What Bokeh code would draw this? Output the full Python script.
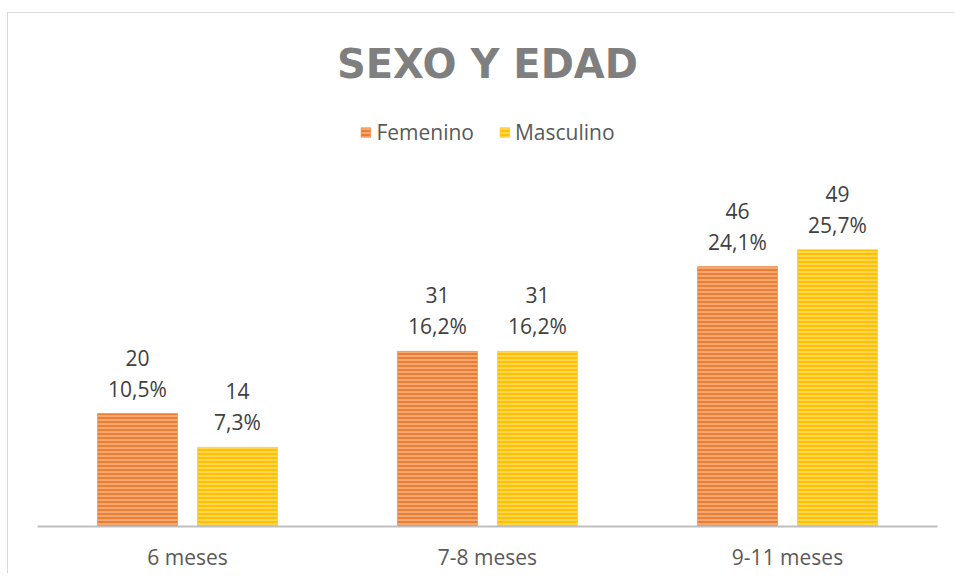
from bokeh.plotting import figure
from bokeh.models import ColumnDataSource, FactorRange, Range1d, Legend, LegendItem
from bokeh.transform import dodge
from bokeh.embed import file_html
from bokeh.resources import INLINE
from bokeh.core.properties import value

# ---- data ----
categories = ["6 meses", "7-8 meses", "9-11 meses"]
femenino = [20, 31, 46]
masculino = [14, 31, 49]
femenino_pct = ["10,5%", "16,2%", "24,1%"]
masculino_pct = ["7,3%", "16,2%", "25,7%"]
series_names = ["Femenino", "Masculino"]

src = ColumnDataSource(dict(
    cat=categories,
    fem=femenino, masc=masculino,
    fem_n=[str(v) for v in femenino], masc_n=[str(v) for v in masculino],
    fem_p=femenino_pct, masc_p=masculino_pct,
))

FONT = "Open Sans"
ORANGE = "#ED7D31"
YELLOW = "#FFC000"

p = figure(
    x_range=FactorRange(*categories, range_padding=0),
    y_range=Range1d(0, 75.4),
    frame_width=900, frame_height=426,
    output_backend="svg", toolbar_location=None,
    min_border_left=29, min_border_right=17, min_border_bottom=20, min_border_top=87,
    title="SEXO Y EDAD",
)
p.styles = {"border-top": "1px solid #d9d9d9", "border-left": "1px solid #d9d9d9",
            "margin-left": "7px", "margin-top": "12px"}

p.title.align = "center"
p.title.text_font = "DejaVu Sans"
p.title.text_font_style = "bold"
p.title.text_font_size = "40px"
p.title.text_color = "#7f7f7f"
p.title.offset = 0
p.title.standoff = 28

p.outline_line_color = None
p.background_fill_color = "white"
p.border_fill_color = "white"
p.xgrid.grid_line_color = None
p.ygrid.grid_line_color = None
p.yaxis.visible = False

ax = p.xaxis[0]
ax.axis_line_color = "#bfbfbf"
ax.axis_line_width = 2
ax.major_tick_line_color = None
ax.minor_tick_line_color = None
ax.major_label_text_font = FONT
ax.major_label_text_font_size = "21px"
ax.major_label_text_color = "#595959"
ax.major_label_standoff = 10

off = 1 / 6
bw = 0.2667
common = dict(hatch_pattern="horizontal_line", hatch_scale=4, hatch_weight=1.2,
              hatch_color="white", hatch_alpha=0.55, line_alpha=0.5, line_width=1)
r1 = p.vbar(x=dodge("cat", -off, range=p.x_range), top="fem", width=bw, source=src,
            fill_color=ORANGE, line_color=ORANGE, **common)
r2 = p.vbar(x=dodge("cat", off, range=p.x_range), top="masc", width=bw, source=src,
            fill_color=YELLOW, line_color=YELLOW, **common)

lbl = dict(text_font=value(FONT), text_font_size="21px", text_color="#404040",
           text_align="center", text_baseline="middle", source=src)
p.text(x=dodge("cat", -off, range=p.x_range), y="fem", text="fem_p", y_offset=-25, **lbl)
p.text(x=dodge("cat", -off, range=p.x_range), y="fem", text="fem_n", y_offset=-56, **lbl)
p.text(x=dodge("cat", off, range=p.x_range), y="masc", text="masc_p", y_offset=-25, **lbl)
p.text(x=dodge("cat", off, range=p.x_range), y="masc", text="masc_n", y_offset=-56, **lbl)

legend = Legend(items=[LegendItem(label=series_names[0], renderers=[r1]),
                       LegendItem(label=series_names[1], renderers=[r2])],
                orientation="horizontal", location="top_center",
                label_text_font=FONT, label_text_font_size="21px", label_text_color="#595959",
                glyph_width=12, glyph_height=12, label_standoff=5, spacing=24,
                padding=4, margin=18, border_line_color=None, background_fill_alpha=0)
p.add_layout(legend)

open("out.html", "w").write(file_html(p, INLINE))
